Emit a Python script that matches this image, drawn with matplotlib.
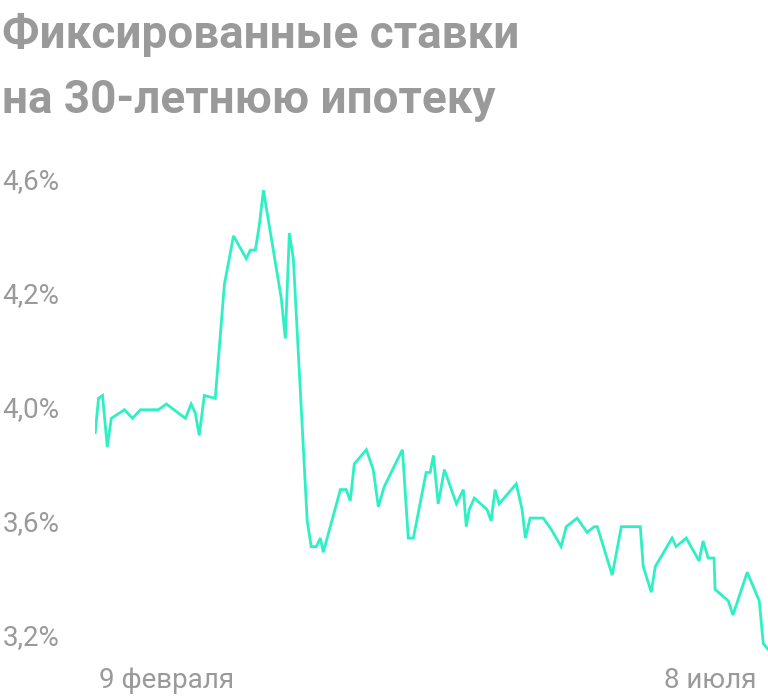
import matplotlib
matplotlib.use("Agg")
import matplotlib.pyplot as plt
from matplotlib.transforms import blended_transform_factory

days = [-19.5,-18.6,-17.5,-16.2,-15.1,-11.5,-9.3,-7.1,-2.2,0,5.2,6.8,7.9,9.0,10.4,13.4,15.9,18.4,21.9,23.0,24.4,25.5,26.6,31.5,32.6,33.7,34.8,38.6,39.7,41.1,42.2,43.0,47.7,49.3,50.4,51.5,54.8,56.7,58.1,59.7,64.7,66.3,67.7,71.2,72.3,73.2,74.5,76.2,79.5,81.4,82.2,83.0,84.4,87.9,89.0,90.1,91.2,95.9,97.5,98.4,99.7,103.3,105.5,108.2,109.6,112.6,115.3,117.3,118.1,122.2,124.7,129.9,130.7,132.9,134.0,138.6,139.7,142.5,146.0,147.1,148.5,150.1,150.4,154.0,155.3,159.2,162.5,163.6,164.9]
rates = [3.92,4.04,4.05,3.87,3.97,4.00,3.97,4.00,4.00,4.02,3.97,4.02,3.99,3.91,4.05,4.04,4.44,4.61,4.53,4.56,4.56,4.65,4.77,4.39,4.25,4.62,4.53,3.61,3.52,3.52,3.55,3.50,3.72,3.72,3.68,3.81,3.86,3.79,3.66,3.73,3.86,3.55,3.55,3.78,3.78,3.84,3.67,3.79,3.67,3.72,3.59,3.65,3.69,3.65,3.61,3.72,3.67,3.74,3.65,3.55,3.62,3.62,3.58,3.52,3.59,3.62,3.57,3.59,3.59,3.42,3.59,3.59,3.45,3.36,3.45,3.55,3.52,3.55,3.47,3.54,3.48,3.48,3.37,3.33,3.28,3.43,3.33,3.18,3.16]
ytick_pos = [3.2, 3.6, 4.0, 4.4, 4.8]
ytick_labels = ["3,2%", "3,6%", "4,0%", "4,2%", "4,6%"]
xtick_pos = [0, 149]
xtick_labels = ["9 февраля", "8 июля"]

plt.rcParams['font.family'] = ['Roboto', 'DejaVu Sans']
gray = "#9a9a9a"
fig = plt.figure(figsize=(7.68, 6.99), dpi=100)
ax = fig.add_axes([0.124, 0.063, 0.876, 0.722])
ax.plot(days, rates, color="#2ef0c4", lw=2, solid_joinstyle="miter")
ax.set_xlim(-19.5, 164.9)
ax.set_ylim(3.14, 4.91)
for s in ax.spines.values():
    s.set_visible(False)
ax.set_yticks([]); ax.set_xticks([])
tr = blended_transform_factory(fig.transFigure, ax.transData)
for p, l in zip(ytick_pos, ytick_labels):
    ax.text(0.003, p, l, transform=tr, ha="left", va="center", fontsize=20, color=gray)
tr2 = blended_transform_factory(ax.transData, fig.transFigure)
for p, l in zip(xtick_pos, xtick_labels):
    ax.text(p, 0.027, l, transform=tr2, ha="center", va="center", fontsize=20, color=gray)
fig.text(0.003, 0.95, "Фиксированные ставки", fontsize=33, fontweight="bold", color=gray, va="center", ha="left")
fig.text(0.003, 0.857, "на 30-летнюю ипотеку", fontsize=33, fontweight="bold", color=gray, va="center", ha="left")
fig.savefig("out.png")
